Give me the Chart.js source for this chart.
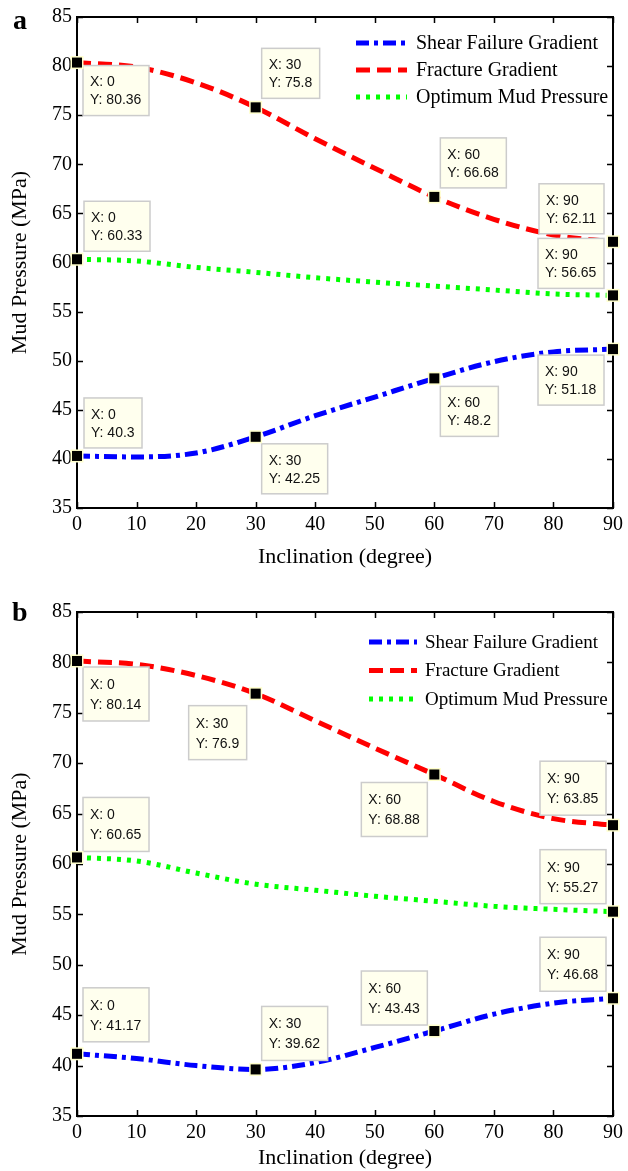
<!DOCTYPE html>
<html>
<head>
<meta charset="utf-8">
<script src="https://cdn.jsdelivr.net/npm/chart.js@4.4.1/dist/chart.umd.min.js"></script>
<style>
  html, body { margin: 0; padding: 0; background: #fff; }
  .panel { position: relative; width: 628px; height: 585px; }
  .panel canvas { display: block; }
  .tag { position: absolute; font: bold 28px "Liberation Serif", serif; color: #000; }
</style>
</head>
<body>
<div class="panel"><span class="tag" style="left:13px;top:4px">a</span><canvas id="chartA" width="628" height="585"></canvas></div>
<div class="panel" style="height:586px"><span class="tag" style="left:12px;top:11px">b</span><canvas id="chartB" width="628" height="586"></canvas></div>

<script>
// data
const inclination = [0, 10, 20, 30, 40, 50, 60, 70, 80, 90];
const xTicks = [0, 10, 20, 30, 40, 50, 60, 70, 80, 90];
const yTicks = [35, 40, 45, 50, 55, 60, 65, 70, 75, 80, 85];

const shearA    = [40.3, 40.2, 40.6, 42.25, 44.4, 46.3, 48.2, 49.9, 50.9, 51.18];
const fractureA = [80.36, 79.9, 78.3, 75.8, 72.6, 69.6, 66.68, 64.4, 62.8, 62.11];
const optimumA  = [60.33, 60.15, 59.5, 59.0, 58.45, 58.0, 57.6, 57.2, 56.8, 56.65];

const shearB    = [41.17, 40.7, 40.0, 39.62, 40.3, 41.8, 43.43, 45.1, 46.2, 46.68];
const fractureB = [80.14, 79.8, 78.7, 76.9, 74.2, 71.5, 68.88, 66.2, 64.5, 63.85];
const optimumB  = [60.65, 60.3, 59.1, 58.0, 57.4, 56.8, 56.3, 55.8, 55.5, 55.27];

const seriesNames = ['Shear Failure Gradient', 'Fracture Gradient', 'Optimum Mud Pressure'];

// datatip placement: dataset, point index, side of point, above/below, gaps
const tipsA = [
    { ds: 1, i: 0, side: 'r', v: 'below', dx: 6, dy: 3 },
    { ds: 1, i: 3, side: 'r', v: 'above', dx: 6, dy: 9 },
    { ds: 1, i: 6, side: 'r', v: 'above', dx: 6, dy: 9 },
    { ds: 1, i: 9, side: 'l', v: 'above', dx: 9, dy: 8 },
    { ds: 2, i: 0, side: 'r', v: 'above', dx: 7, dy: 8 },
    { ds: 2, i: 9, side: 'l', v: 'above', dx: 9, dy: 7 },
    { ds: 0, i: 0, side: 'r', v: 'above', dx: 7, dy: 8 },
    { ds: 0, i: 3, side: 'r', v: 'below', dx: 6, dy: 7 },
    { ds: 0, i: 6, side: 'r', v: 'below', dx: 6, dy: 8 },
    { ds: 0, i: 9, side: 'l', v: 'below', dx: 9, dy: 6 }
];
const tipsB = [
    { ds: 1, i: 0, side: 'r', v: 'below', dx: 6, dy: 6 },
    { ds: 1, i: 3, side: 'l', v: 'below', dx: 9, dy: 12 },
    { ds: 1, i: 6, side: 'l', v: 'below', dx: 7, dy: 8 },
    { ds: 1, i: 9, side: 'l', v: 'above', dx: 7, dy: 10 },
    { ds: 2, i: 0, side: 'r', v: 'above', dx: 6, dy: 6 },
    { ds: 2, i: 9, side: 'l', v: 'above', dx: 7, dy: 8 },
    { ds: 0, i: 0, side: 'r', v: 'above', dx: 6, dy: 12 },
    { ds: 0, i: 3, side: 'r', v: 'above', dx: 6, dy: 9 },
    { ds: 0, i: 6, side: 'l', v: 'above', dx: 7, dy: 6 },
    { ds: 0, i: 9, side: 'l', v: 'above', dx: 7, dy: 7 }
];

const toXY = arr => inclination.map((x, i) => ({ x: x, y: arr[i] }));

// frame with inward ticks on all four sides
const framePlugin = {
    id: 'frame',
    beforeDatasetsDraw(chart) {
        const { ctx, chartArea: a, scales: { x, y } } = chart;
        ctx.save();
        ctx.strokeStyle = '#000';
        ctx.lineWidth = 1.5;
        ctx.beginPath();
        x.ticks.forEach(t => {
            const px = Math.round(x.getPixelForValue(t.value)) + 0.5;
            ctx.moveTo(px, a.bottom); ctx.lineTo(px, a.bottom - 6);
            ctx.moveTo(px, a.top); ctx.lineTo(px, a.top + 6);
        });
        y.ticks.forEach(t => {
            const py = Math.round(y.getPixelForValue(t.value)) + 0.5;
            ctx.moveTo(a.left, py); ctx.lineTo(a.left + 6, py);
            ctx.moveTo(a.right, py); ctx.lineTo(a.right - 6, py);
        });
        ctx.stroke();
        ctx.lineWidth = 2;
        ctx.strokeRect(a.left, a.top, a.right - a.left, a.bottom - a.top);
        ctx.restore();
    }
};

// legend drawn inside the plot, top right
const legendPlugin = {
    id: 'innerLegend',
    afterDatasetsDraw(chart, args, o) {
        const ctx = chart.ctx;
        ctx.save();
        ctx.font = o.size + 'px "Liberation Serif", serif';
        ctx.textBaseline = 'middle';
        chart.data.datasets.forEach((d, k) => {
            const yy = o.y + k * o.gap;
            ctx.strokeStyle = d.borderColor;
            ctx.lineWidth = d.borderWidth;
            ctx.setLineDash(d.borderDash);
            ctx.beginPath();
            ctx.moveTo(o.x, yy); ctx.lineTo(o.x + o.len, yy);
            ctx.stroke();
            ctx.setLineDash([]);
            ctx.fillStyle = '#000';
            ctx.fillText(d.label, o.x + o.len + o.textGap, yy + 1);
        });
        ctx.restore();
    }
};

// markers + MATLAB-like datatips
const tipPlugin = {
    id: 'datatips',
    afterDatasetsDraw(chart, args, o) {
        const ctx = chart.ctx;
        ctx.save();
        ctx.font = '14px "Liberation Sans", Arial, sans-serif';
        ctx.textBaseline = 'middle';
        o.tips.forEach(t => {
            const pt = chart.getDatasetMeta(t.ds).data[t.i];
            const raw = chart.data.datasets[t.ds].data[t.i];
            const l1 = 'X: ' + raw.x, l2 = 'Y: ' + raw.y;
            const w = Math.ceil(Math.max(ctx.measureText(l1).width, ctx.measureText(l2).width)) + 14;
            const h = o.boxH;
            const bx = t.side === 'r' ? pt.x + t.dx : pt.x - t.dx - w;
            const by = t.v === 'below' ? pt.y + t.dy : pt.y - t.dy - h;
            ctx.fillStyle = '#FFFFEE';
            ctx.fillRect(bx, by, w, h);
            ctx.strokeStyle = '#CCCCCC';
            ctx.lineWidth = 1.5;
            ctx.strokeRect(bx, by, w, h);
            ctx.fillStyle = '#111';
            ctx.fillText(l1, bx + 7, by + o.line1);
            ctx.fillText(l2, bx + 7, by + o.line2);
            // marker
            ctx.fillStyle = '#FFFFCC';
            ctx.fillRect(pt.x - 6.5, pt.y - 6.5, 13, 13);
            ctx.fillStyle = '#000';
            ctx.fillRect(pt.x - 5, pt.y - 5, 10, 10);
        });
        ctx.restore();
    }
};

function makeChart(id, shear, fracture, optimum, cfg) {
    const serif = '"Liberation Serif", "Times New Roman", serif';
    const lineDs = (label, data, color, dash) => ({
        label: label,
        data: toXY(data),
        borderColor: color,
        backgroundColor: color,
        borderWidth: 5,
        borderDash: dash,
        borderCapStyle: 'butt',
        pointRadius: 0,
        cubicInterpolationMode: 'monotone',
        fill: false
    });
    return new Chart(document.getElementById(id), {
        type: 'line',
        data: {
            datasets: [
                lineDs(seriesNames[0], shear, '#0000FF', [13, 5, 4, 5]),
                lineDs(seriesNames[1], fracture, '#FF0000', [14, 7]),
                lineDs(seriesNames[2], optimum, '#00FF00', [4, 6])
            ]
        },
        options: {
            responsive: false,
            animation: false,
            layout: { padding: { top: cfg.top, right: 11, left: 0, bottom: 0 } },
            plugins: {
                legend: { display: false },
                tooltip: { enabled: false },
                innerLegend: cfg.legend,
                datatips: { tips: cfg.tips, boxH: cfg.boxH, line1: cfg.line1, line2: cfg.line2 }
            },
            scales: {
                x: {
                    type: 'linear', min: 0, max: 90,
                    afterBuildTicks: s => { s.ticks = xTicks.map(v => ({ value: v })); },
                    afterFit: s => { s.height = cfg.xHeight; },
                    grid: { display: false, drawTicks: false },
                    border: { display: false },
                    ticks: { color: '#000', padding: cfg.xPad, font: { family: serif, size: 20 } },
                    title: {
                        display: true, text: 'Inclination (degree)', color: '#000',
                        font: { family: serif, size: 22 }, padding: { top: 0, bottom: cfg.titlePad }
                    }
                },
                y: {
                    type: 'linear', min: 35, max: 85,
                    afterBuildTicks: s => { s.ticks = yTicks.map(v => ({ value: v })); },
                    afterFit: s => { s.width = 77; },
                    grid: { display: false, drawTicks: false },
                    border: { display: false },
                    ticks: { color: '#000', padding: 5, font: { family: serif, size: 20 } },
                    title: {
                        display: true, text: 'Mud Pressure (MPa)', color: '#000',
                        font: { family: serif, size: 22 }, padding: { top: 7, bottom: 0 }
                    }
                }
            }
        },
        plugins: [framePlugin, legendPlugin, tipPlugin]
    });
}

makeChart('chartA', shearA, fractureA, optimumA, {
    top: 17, xHeight: 77, xPad: 5, titlePad: 15,
    boxH: 50, line1: 17, line2: 35, tips: tipsA,
    legend: { x: 356, y: 43, gap: 27, len: 51, textGap: 9, size: 20 }
});
makeChart('chartB', shearB, fractureB, optimumB, {
    top: 27, xHeight: 55, xPad: 5, titlePad: 0,
    boxH: 54, line1: 18, line2: 38, tips: tipsB,
    legend: { x: 369, y: 57, gap: 28.5, len: 48, textGap: 8, size: 19 }
});
</script>
</body>
</html>
